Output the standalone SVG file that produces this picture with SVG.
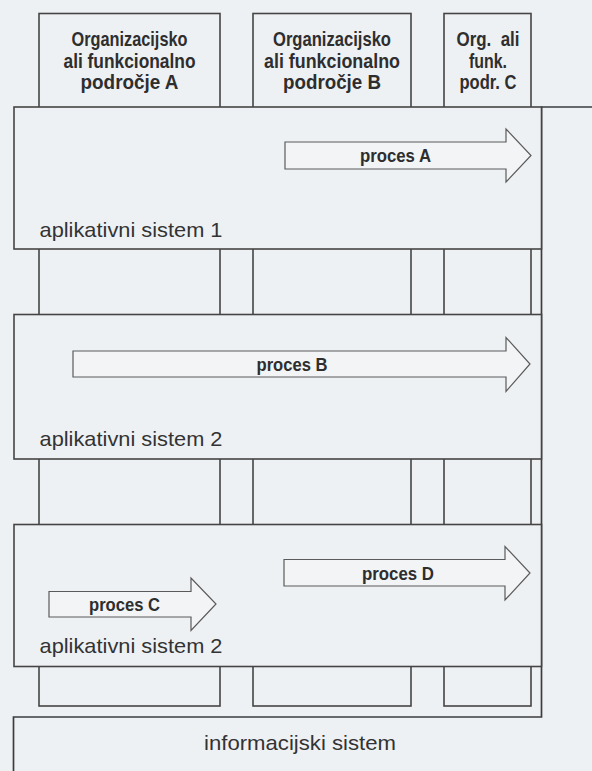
<svg xmlns="http://www.w3.org/2000/svg" width="592" height="771" viewBox="0 0 592 771">
  <style>
    .page { fill: #eef1f4; }
    .col { fill: none; stroke: #454545; stroke-width: 1.6; }
    .band { fill: #eef1f4; stroke: #454545; stroke-width: 1.6; }
    .frame { fill: none; stroke: #3c3c3c; stroke-width: 1.7; }
    .arrow { fill: #f2f4f6; stroke: #5a5a5a; stroke-width: 1.2; stroke-linejoin: miter; }
    .hdr { font-family: "Liberation Sans Narrow", "Liberation Sans", Arial, sans-serif; font-weight: bold; font-size: 21px; fill: #2e2e2e; text-anchor: middle; }
    .proc { font-family: "Liberation Sans Narrow", "Liberation Sans", Arial, sans-serif; font-weight: bold; font-size: 18px; fill: #2e2e2e; text-anchor: middle; }
    .sys { font-family: "Liberation Sans", Arial, sans-serif; font-size: 21px; fill: #333333; }
  </style>

  <rect class="page" x="0" y="0" width="592" height="771"/>

  <!-- organisational / functional areas: columns running behind the application bands -->
  <g id="column-a">
    <rect class="col" x="39" y="13.5" width="181" height="692.5"/>
    <text class="hdr" x="129.5" y="45.5" textLength="116" lengthAdjust="spacingAndGlyphs">Organizacijsko</text>
    <text class="hdr" x="129.5" y="67.5" textLength="132" lengthAdjust="spacingAndGlyphs">ali funkcionalno</text>
    <text class="hdr" x="129.5" y="89" textLength="98" lengthAdjust="spacingAndGlyphs">področje A</text>
  </g>
  <g id="column-b">
    <rect class="col" x="253" y="13.5" width="158" height="692.5"/>
    <text class="hdr" x="332" y="45.5" textLength="118" lengthAdjust="spacingAndGlyphs">Organizacijsko</text>
    <text class="hdr" x="332" y="67.5" textLength="136" lengthAdjust="spacingAndGlyphs">ali funkcionalno</text>
    <text class="hdr" x="332" y="89" textLength="98" lengthAdjust="spacingAndGlyphs">področje B</text>
  </g>
  <g id="column-c">
    <rect class="col" x="444" y="13.5" width="87" height="692.5"/>
    <text class="hdr" x="488" y="45.5" textLength="63" lengthAdjust="spacingAndGlyphs" xml:space="preserve">Org.  ali</text>
    <text class="hdr" x="488" y="67.5" textLength="38" lengthAdjust="spacingAndGlyphs">funk.</text>
    <text class="hdr" x="488" y="89" textLength="57" lengthAdjust="spacingAndGlyphs">podr. C</text>
  </g>

  <!-- information system: encloses everything on the right and along the bottom -->
  <g id="information-system">
    <path class="frame" d="M13.5,771 V717 H541.5 V107 H592"/>
    <text class="sys" x="300" y="750" text-anchor="middle" textLength="192" lengthAdjust="spacingAndGlyphs">informacijski sistem</text>
  </g>

  <!-- application systems -->
  <g id="band-1">
    <rect class="band" x="14" y="107" width="527.5" height="142"/>
    <text class="sys" x="39.5" y="236.5" textLength="183" lengthAdjust="spacingAndGlyphs">aplikativni sistem 1</text>
  </g>
  <g id="band-2">
    <rect class="band" x="14" y="314.5" width="527.5" height="144.5"/>
    <text class="sys" x="39.5" y="445.5" textLength="183" lengthAdjust="spacingAndGlyphs">aplikativni sistem 2</text>
  </g>
  <g id="band-3">
    <rect class="band" x="14" y="524.5" width="527.5" height="142"/>
    <text class="sys" x="39.5" y="653" textLength="183" lengthAdjust="spacingAndGlyphs">aplikativni sistem 2</text>
  </g>

  <!-- business processes -->
  <g id="connectors">
    <g id="proces-a">
      <polygon class="arrow" points="285,142 506,142 506,129 531,155.5 506,182 506,169 285,169"/>
      <text class="proc" x="395.5" y="162" textLength="71" lengthAdjust="spacingAndGlyphs">proces A</text>
    </g>
    <g id="proces-b">
      <polygon class="arrow" points="73,351 506,351 506,337.5 530,364 506,391.5 506,377 73,377"/>
      <text class="proc" x="292" y="370.5" textLength="71" lengthAdjust="spacingAndGlyphs">proces B</text>
    </g>
    <g id="proces-c">
      <polygon class="arrow" points="49,591.5 191,591.5 191,578 216,604 191,630.5 191,617 49,617"/>
      <text class="proc" x="124.5" y="610.5" textLength="71" lengthAdjust="spacingAndGlyphs">proces C</text>
    </g>
    <g id="proces-d">
      <polygon class="arrow" points="284,559.5 505,559.5 505,546.5 530,573 505,600 505,586 284,586"/>
      <text class="proc" x="398" y="579.5" textLength="72" lengthAdjust="spacingAndGlyphs">proces D</text>
    </g>
  </g>
</svg>
